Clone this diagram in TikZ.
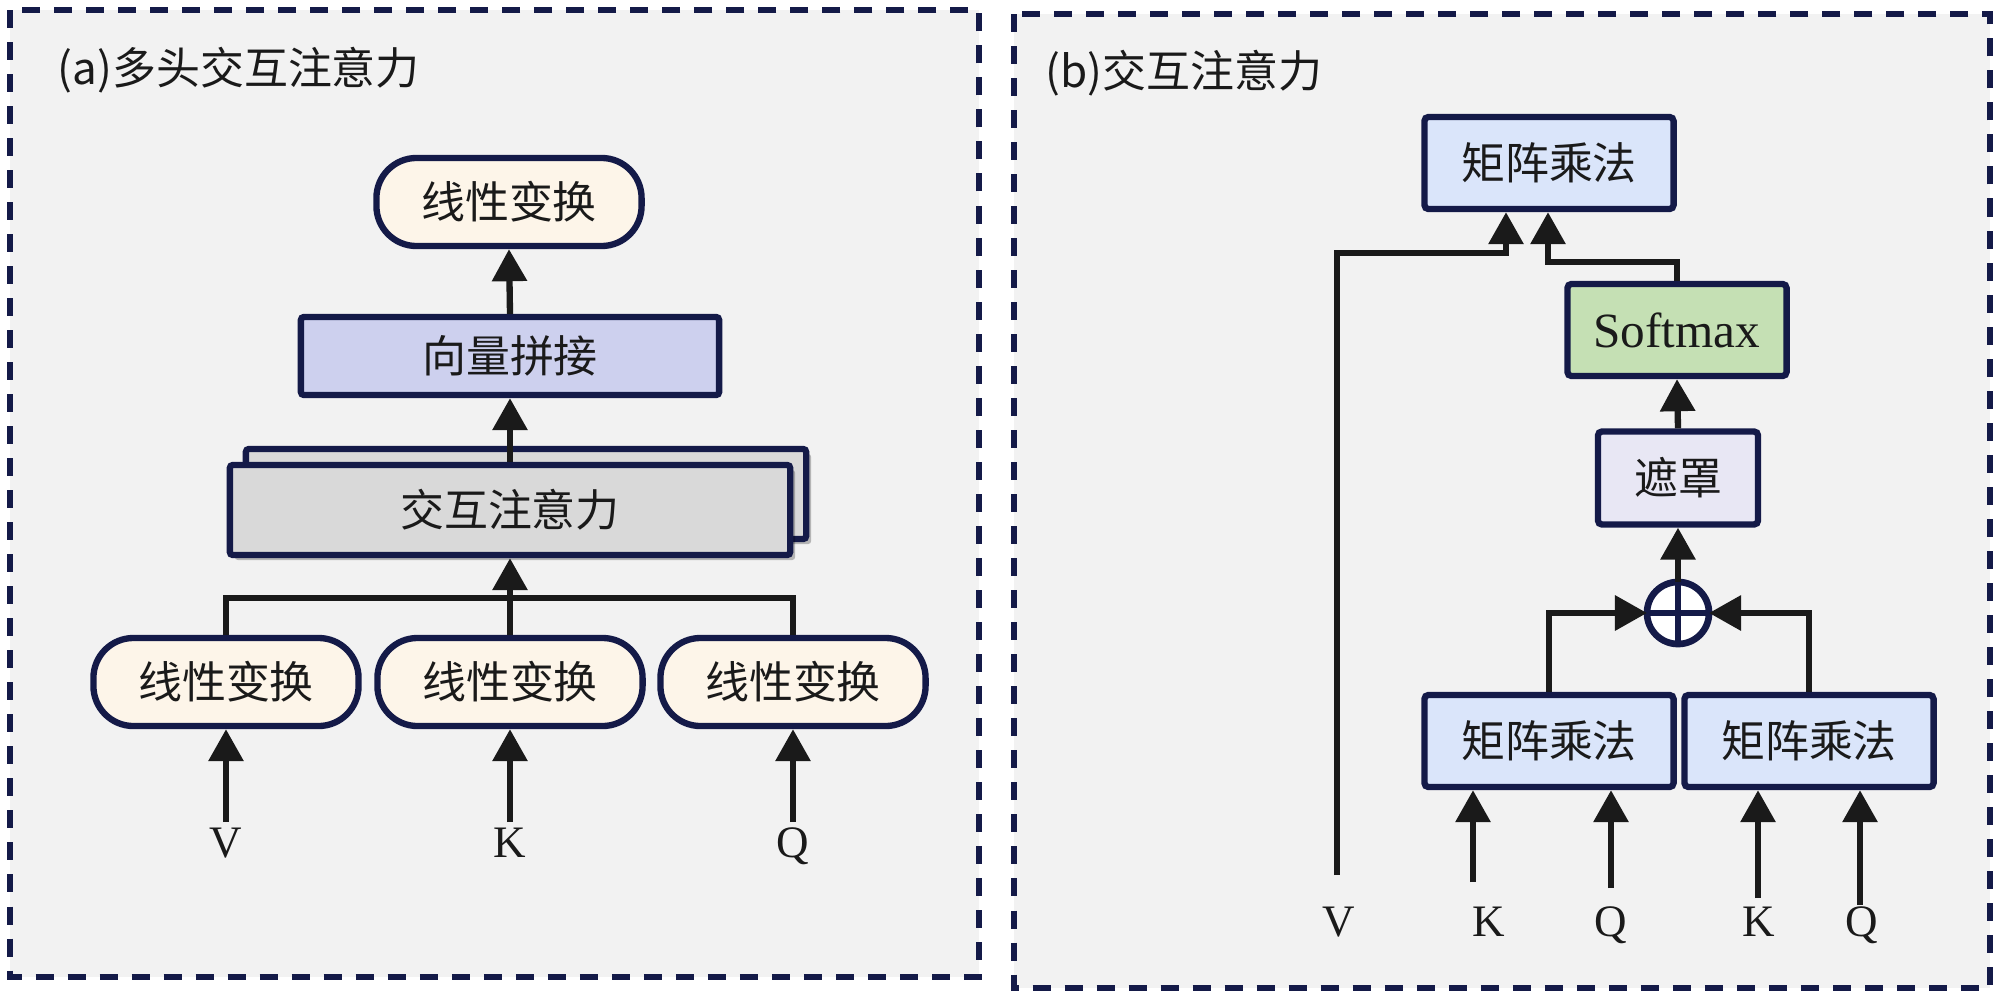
\documentclass[tikz,border=0pt]{standalone}
\usepackage{fontspec}
\setmainfont{Liberation Serif}
\newfontfamily\cjk{Noto Sans CJK SC}
\usepackage{tikz}
\usetikzlibrary{arrows.meta,shadows}
\definecolor{navy}{HTML}{141A48}
\definecolor{ink}{HTML}{1A1A1A}
\definecolor{panelbg}{HTML}{F2F2F2}
\definecolor{cream}{HTML}{FDF5E9}
\definecolor{lavender}{HTML}{CDD0EE}
\definecolor{attgray}{HTML}{D9D9D9}
\definecolor{mmblue}{HTML}{DAE5FA}
\definecolor{smgreen}{HTML}{C5E0B4}
\definecolor{mkpale}{HTML}{E8E7F4}
\tikzset{
  box/.style = {draw=navy, line width=1.8pt, align=center, inner sep=0pt,
    text=ink, font=\cjk\fontsize{12.5}{15}\selectfont},
  box_lin/.style = {box, fill=cream, rounded corners=0.4cm,
    minimum width=2.65cm, minimum height=0.88cm},% linear layer
  box_cat/.style = {box, fill=lavender, rounded corners=0.03cm,
    minimum width=4.18cm, minimum height=0.78cm},% concat
  box_att/.style = {box, fill=attgray, rounded corners=0.03cm,
    minimum width=5.6cm, minimum height=0.9cm,
    drop shadow={shadow xshift=0.05cm, shadow yshift=-0.05cm,
      fill=black, opacity=0.25}},% attention heads
  box_mm/.style = {box, fill=mmblue, rounded corners=0.04cm,
    minimum width=2.49cm, minimum height=0.92cm},% matmul
  box_sm/.style = {box, fill=smgreen, rounded corners=0.04cm,
    minimum width=2.19cm, minimum height=0.92cm,
    font=\fontsize{14}{16}\selectfont},% softmax
  box_mk/.style = {box, fill=mkpale, rounded corners=0.04cm,
    minimum width=1.6cm, minimum height=0.93cm},% mask
  sum_c/.style = {circle, draw=navy, line width=1.9pt, fill=white,
    minimum size=0.62cm, inner sep=0pt, outer sep=0pt},% add
  lbl/.style = {anchor=base, inner sep=0pt, text=ink,
    font=\fontsize{12.8}{14}\selectfont},
  title/.style = {anchor=west, inner sep=0pt, text=ink,
    font=\cjk\fontsize{12.5}{15}\selectfont},
  panel/.style = {draw=navy, fill=panelbg, line width=1.8pt,
    dash pattern=on 0.18cm off 0.14cm},
  wire/.style = {draw=ink, line width=1.8pt}
}

\begin{document}
\begin{tikzpicture}[x=0.01cm, y=-0.01cm, >={Triangle[width=0.34cm,length=0.32cm]}]
  \useasboundingbox (0,0) rectangle (2000,1000);
  \draw[panel] (10,10) rectangle (979,977);
  \draw[panel] (1014,14) rectangle (1990,988);
  \node[title] (ttl_a) at (57,70) {(a)多头交互注意力};
  \node[title] (ttl_b) at (1045,73) {(b)交互注意力};

  % (a)
  \node[box_lin] (lin_top) at (509,202) {线性变换};
  \node[box_cat] (cat) at (510,356) {向量拼接};
  \node[box_att] (att_bg) at (526,494) {};
  \node[box_att] (att) at (510,510) {交互注意力};
  \foreach \n/\x/\l in {v/226/V, k/510/K, q/793/Q} {
    \node[box_lin] (lin_\n) at (\x,682) {线性变换};
    \coordinate (in_\n) at (\x,822);
    \node[lbl] (lbl_\n) at (\x,857) {\l};
    \draw[wire,->] (in_\n) -- (lin_\n.south);
  }
  \coordinate (bus) at (510,598);
  \draw[wire] (lin_v.north) |- (bus) -| (lin_q.north);
  \draw[wire,->] (lin_k.north) -- (att.south);
  \draw[wire,->] (att.north) -- (cat.south);
  \draw[wire,->] (cat.north) -- (lin_top.south);

  % (b)
  \node[box_mm] (mm_top) at (1549,163) {矩阵乘法};
  \node[box_sm] (sm) at (1677,330) {Softmax};
  \node[box_mk] (mask) at (1678,478) {遮罩};
  \node[sum_c] (sum) at (1678,613) {};
  \draw[navy, line width=1.9pt] (sum.north) -- (sum.south) (sum.west) -- (sum.east);
  \node[box_mm] (mm_l) at (1549,741) {矩阵乘法};
  \node[box_mm] (mm_r) at (1809,741) {矩阵乘法};
  \foreach \n/\x/\y/\lx/\l/\m in {k1/1473/882/1489/K/mm_l, q1/1611/888/1611/Q/mm_l,
      k2/1758/898/1759/K/mm_r, q2/1860/905/1862/Q/mm_r} {
    \coordinate (in_\n) at (\x,\y);
    \node[lbl] (lbl_\n) at (\lx,936) {\l};
    \draw[wire,->] (in_\n) -- (in_\n |- \m.south);
  }
  \coordinate (in_v2) at (1337,875);
  \node[lbl] (lbl_v2) at (1339,936) {V};
  \coordinate (v_bend) at (1506,253);
  \coordinate (s_bend) at (1548,262);
  \draw[wire,->] (in_v2) |- (v_bend) -- (v_bend |- mm_top.south);
  \draw[wire,->] (sm.north) |- (s_bend) -- (s_bend |- mm_top.south);
  \draw[wire,->] (mm_l.north) |- (sum.west);
  \draw[wire,->] (mm_r.north) |- (sum.east);
  \draw[wire,->] (sum.north) -- (mask.south);
  \draw[wire,->] (mask.north) -- (sm.south);
\end{tikzpicture}
\end{document}
